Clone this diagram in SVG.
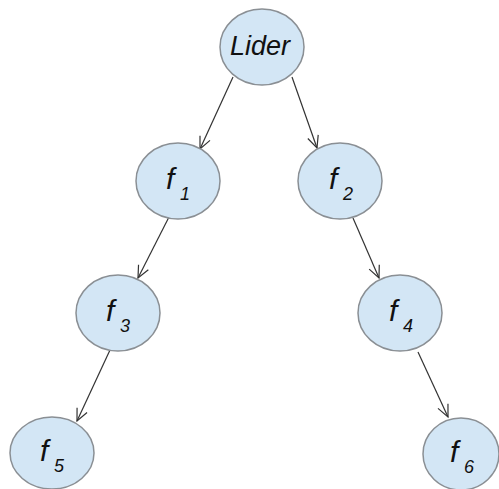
<svg xmlns="http://www.w3.org/2000/svg" width="499" height="489" viewBox="0 0 499 489">
<style>
.node{fill:#d3e6f5;stroke:#8a8f94;stroke-width:1.5}
.lbl{font-family:"Liberation Sans",Arial,sans-serif;font-style:italic;fill:#111}
.f{font-size:30px}
.sub{font-size:18px}
.edge{stroke:#333;stroke-width:1.2;fill:none;marker-end:url(#arr)}
</style>
<defs>
<marker id="arr" markerUnits="userSpaceOnUse" markerWidth="20" markerHeight="20" refX="14" refY="10" orient="auto">
<path d="M2,4.5 L14,10 L2,15.5" fill="none" stroke="#333" stroke-width="1.2"/>
</marker>
</defs>
<rect width="499" height="489" fill="#fff"/>
<g id="connectors">
<line class="edge" x1="233" y1="77" x2="200" y2="149"/>
<line class="edge" x1="292" y1="77" x2="317" y2="148"/>
<line class="edge" x1="170" y1="215" x2="138" y2="278"/>
<line class="edge" x1="353" y1="218" x2="379" y2="278"/>
<line class="edge" x1="110" y1="350" x2="77" y2="421"/>
<line class="edge" x1="418" y1="352" x2="448" y2="417"/>
</g>
<g id="lider">
<ellipse class="node" cx="262" cy="47" rx="42" ry="38"/>
<text class="lbl" x="260" y="55" font-size="27" text-anchor="middle">Lider</text>
</g>
<g id="f1">
<ellipse class="node" cx="178" cy="181" rx="42" ry="38"/>
<text class="lbl f" x="166" y="189">f</text><text class="lbl sub" x="180" y="200">1</text>
</g>
<g id="f2">
<ellipse class="node" cx="340" cy="181" rx="42" ry="38"/>
<text class="lbl f" x="329" y="189">f</text><text class="lbl sub" x="343" y="200">2</text>
</g>
<g id="f3">
<ellipse class="node" cx="118" cy="313" rx="42" ry="38"/>
<text class="lbl f" x="106" y="321">f</text><text class="lbl sub" x="120" y="332">3</text>
</g>
<g id="f4">
<ellipse class="node" cx="400" cy="313" rx="42" ry="38"/>
<text class="lbl f" x="389" y="321">f</text><text class="lbl sub" x="403" y="332">4</text>
</g>
<g id="f5">
<ellipse class="node" cx="52" cy="453" rx="42" ry="36"/>
<text class="lbl f" x="40" y="461">f</text><text class="lbl sub" x="54" y="472">5</text>
</g>
<g id="f6">
<ellipse class="node" cx="461" cy="454" rx="38" ry="36"/>
<text class="lbl f" x="450" y="462">f</text><text class="lbl sub" x="464" y="473">6</text>
</g>
</svg>
